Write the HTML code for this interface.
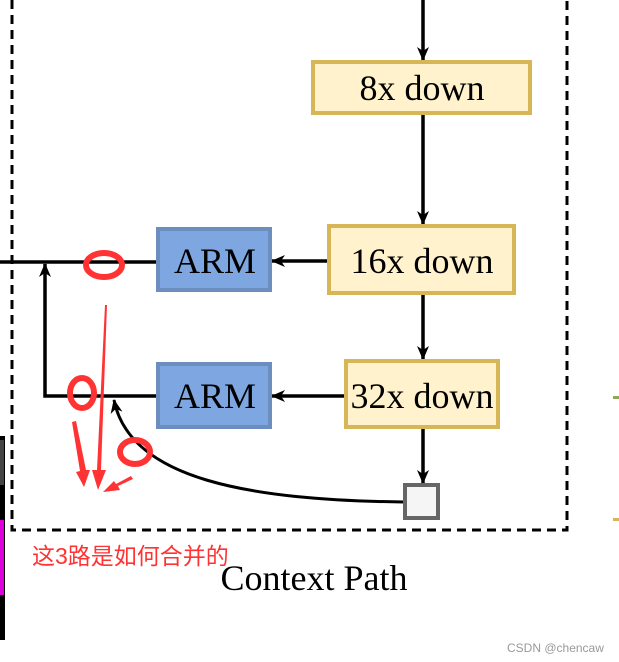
<!DOCTYPE html>
<html><head><meta charset="utf-8"><style>body{margin:0;background:#fff}svg{display:block}</style></head><body>
<svg width="619" height="662" viewBox="0 0 619 662" xmlns="http://www.w3.org/2000/svg">
<defs>
<marker id="a" markerWidth="14" markerHeight="14" refX="13" refY="7" orient="auto" markerUnits="userSpaceOnUse"><path d="M0,1 L14,7 L0,13 L4,7 Z" fill="#000"/></marker>
<marker id="b" markerWidth="14" markerHeight="14" refX="13" refY="7" orient="auto" markerUnits="userSpaceOnUse"><path d="M0,1 L14,7 L0,13 L4,7 Z" fill="#000"/></marker>
</defs>
<path d="M12,0 V530 H567 V0" fill="none" stroke="#000" stroke-width="3" stroke-dasharray="9,6"/>
<rect x="0" y="436" width="5" height="204" fill="#000"/>
<rect x="0" y="440" width="4" height="45" fill="#444"/>
<rect x="0" y="520" width="4" height="75" fill="#d0d"/>
<rect x="613" y="396" width="6" height="3" fill="#8a5"/>
<rect x="613" y="518" width="6" height="3" fill="#d6b656"/>
<g stroke="#000" stroke-width="3.5" fill="none">
<line x1="423" y1="0" x2="423" y2="60" marker-end="url(#a)"/>
<line x1="423" y1="114" x2="423" y2="224" marker-end="url(#a)"/>
<line x1="423" y1="294" x2="423" y2="359" marker-end="url(#a)"/>
<line x1="423" y1="428" x2="423" y2="483" marker-end="url(#a)"/>
<line x1="328" y1="261" x2="272" y2="261" marker-end="url(#a)"/>
<line x1="345" y1="396" x2="272" y2="396" marker-end="url(#a)"/>
<line x1="157" y1="262" x2="0" y2="262"/>
<polyline points="157,396 45,396 45,264" marker-end="url(#a)"/>
<path d="M404,502 C250,500 130,480 114,400" stroke-width="3" marker-end="url(#b)"/>
</g>
<g font-family="Liberation Serif, serif" font-size="36" text-anchor="middle">
<rect x="313" y="62" width="217" height="51" fill="#fff2cc" stroke="#d6b656" stroke-width="4"/>
<text x="422" y="100">8x down</text>
<rect x="329" y="226" width="185" height="67" fill="#fff2cc" stroke="#d6b656" stroke-width="4"/>
<text x="422" y="273">16x down</text>
<rect x="346" y="361" width="152" height="66" fill="#fff2cc" stroke="#d6b656" stroke-width="4"/>
<text x="422" y="408">32x down</text>
<rect x="158" y="229" width="112" height="61" fill="#7ea6e0" stroke="#6c8ebf" stroke-width="4"/>
<text x="215" y="273">ARM</text>
<rect x="158" y="364" width="112" height="63" fill="#7ea6e0" stroke="#6c8ebf" stroke-width="4"/>
<text x="215" y="408">ARM</text>
<text x="314" y="590">Context Path</text>
</g>
<rect x="405" y="485" width="33" height="33" fill="#f5f5f5" stroke="#666" stroke-width="4"/>
<g stroke="#f33" fill="none" stroke-width="6">
<ellipse cx="104" cy="265" rx="18" ry="12"/>
<ellipse cx="82" cy="393" rx="12" ry="15"/>
<ellipse cx="135" cy="452" rx="15" ry="12"/>
</g>
<g fill="#f33">
<path d="M72,422 L76,421 L86,470 L90,470 L84,487 L76,472 L80,471 Z"/>
<path d="M105,305 L107,305 L101,470 L106,470 L98,490 L92,470 L97,470 Z"/>
<path d="M131,476 L133,479 L118,486 L120,490 L103,492 L114,481 L116,484 Z"/>
</g>
<text x="32" y="564" font-family="Liberation Sans, Noto Sans CJK SC, sans-serif" font-size="23" fill="#f33">这3路是如何合并的</text>
<text x="507" y="652" font-family="Liberation Sans, sans-serif" font-size="12" fill="#999">CSDN @chencaw</text>
</svg>
</body></html>
